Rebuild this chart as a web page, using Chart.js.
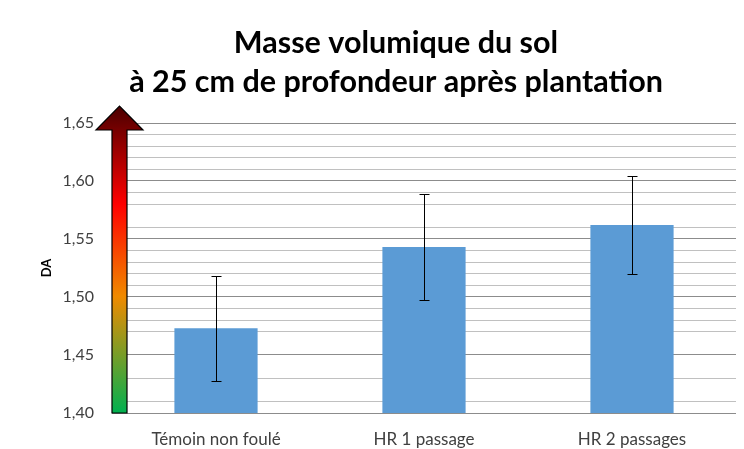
<!DOCTYPE html>
<html>
<head>
<meta charset="utf-8">
<script src="https://cdn.jsdelivr.net/npm/chart.js@4"></script>
<style>
html, body { margin: 0; padding: 0; background: #fff; }
</style>
</head>
<body>
<canvas id="chart" width="744" height="449"></canvas>
<script>
// data
const categories = ['Témoin non foulé', 'HR 1 passage', 'HR 2 passages'];
const meanDA = [1.473, 1.543, 1.562];
const errDA = [0.045, 0.046, 0.042];
const titleLines = ['Masse volumique du sol', 'à 25 cm de profondeur après plantation'];
const yMin = 1.40, yMax = 1.65;
// minor gridlines that are missing in the original picture
const hiddenMinor = [1.42, 1.44, 1.46, 1.57];

const FONT = 'Lato';

// two-line title, centred a bit right of the canvas middle like the original
const titlePlugin = {
  id: 'titleText',
  afterDraw(chart) {
    const ctx = chart.ctx;
    ctx.save();
    ctx.font = 'bold 30.5px ' + FONT;
    ctx.fillStyle = '#000';
    ctx.textAlign = 'center';
    ctx.textBaseline = 'middle';
    ctx.fillText(titleLines[0], 396, 43);
    ctx.fillText(titleLines[1], 396, 82);
    ctx.restore();
  }
};

// gradient arrow along the y axis (green = loose, red = compacted)
const arrowPlugin = {
  id: 'arrow',
  afterDraw(chart) {
    const ctx = chart.ctx;
    const y = chart.scales.y;
    const x0 = chart.chartArea.left;
    const bottom = y.getPixelForValue(yMin);
    const shaftW = 15, headW = 47;
    const headBase = y.getPixelForValue(yMax) + 7;
    const tip = headBase - 24;
    const cx = x0 + shaftW / 2;

    const grad = ctx.createLinearGradient(0, bottom, 0, tip);
    grad.addColorStop(0, '#00b050');
    grad.addColorStop(0.38, '#f08a00');
    grad.addColorStop(0.68, '#ff0000');
    grad.addColorStop(1, '#4a0000');

    ctx.save();
    ctx.beginPath();
    ctx.moveTo(x0, bottom);
    ctx.lineTo(x0, headBase);
    ctx.lineTo(cx - headW / 2, headBase);
    ctx.lineTo(cx, tip);
    ctx.lineTo(cx + headW / 2, headBase);
    ctx.lineTo(x0 + shaftW, headBase);
    ctx.lineTo(x0 + shaftW, bottom);
    ctx.closePath();
    ctx.fillStyle = grad;
    ctx.fill();
    ctx.lineWidth = 1.2;
    ctx.strokeStyle = '#000';
    ctx.stroke();
    ctx.restore();
  }
};

// error bars
const errorBarPlugin = {
  id: 'errorBars',
  afterDatasetsDraw(chart) {
    const ctx = chart.ctx;
    const y = chart.scales.y;
    const meta = chart.getDatasetMeta(0);
    ctx.save();
    ctx.strokeStyle = '#000';
    ctx.lineWidth = 1;
    meta.data.forEach((bar, i) => {
      const hi = Math.round(y.getPixelForValue(meanDA[i] + errDA[i])) + 0.5;
      const lo = Math.round(y.getPixelForValue(meanDA[i] - errDA[i])) + 0.5;
      const x = Math.round(bar.x) + 0.5;
      ctx.beginPath();
      ctx.moveTo(x, hi); ctx.lineTo(x, lo);
      ctx.moveTo(x - 5, hi); ctx.lineTo(x + 5, hi);
      ctx.moveTo(x - 5, lo); ctx.lineTo(x + 5, lo);
      ctx.stroke();
    });
    ctx.restore();
  }
};

function gridColor(c) {
  const v = Math.round(c.tick.value * 100);
  if (v % 5 === 0) return '#8c8c8c';
  if (hiddenMinor.some(h => Math.round(h * 100) === v)) return 'rgba(0,0,0,0)';
  return '#c0c0c0';
}

new Chart(document.getElementById('chart'), {
  type: 'bar',
  data: {
    labels: categories,
    datasets: [{
      data: meanDA,
      backgroundColor: '#5b9bd5',
      barPercentage: 0.4,
      categoryPercentage: 1
    }]
  },
  options: {
    responsive: false,
    animation: false,
    layout: { padding: { left: 39, right: 8, top: 123, bottom: 0 } },
    plugins: {
      legend: { display: false },
      tooltip: { enabled: false },
      title: { display: false }
    },
    scales: {
      x: {
        grid: { display: false, drawTicks: false },
        border: { display: false },
        ticks: { padding: 16, color: '#404040', font: { family: FONT, size: 17 } },
        afterFit: s => { s.height = 36; }
      },
      y: {
        min: yMin,
        max: yMax,
        ticks: {
          stepSize: 0.01,
          autoSkip: false,
          padding: 18,
          color: '#404040',
          font: { family: FONT, size: 16 },
          callback: v => Math.round(v * 100) % 5 === 0 ? v.toFixed(2).replace('.', ',') : ''
        },
        grid: { drawTicks: false, color: gridColor, lineWidth: 1 },
        border: { display: false },
        title: {
          display: true,
          text: 'DA',
          color: '#000',
          padding: 0,
          font: { family: FONT, size: 13, weight: 'bold' }
        },
        afterFit: s => { s.width = 73; }
      }
    }
  },
  plugins: [titlePlugin, arrowPlugin, errorBarPlugin]
});
</script>
</body>
</html>
